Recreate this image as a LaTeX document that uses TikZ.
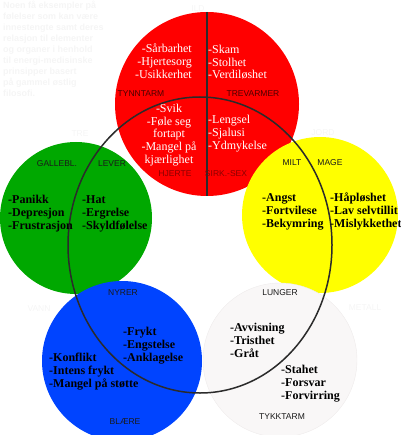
\documentclass[tikz,border=0pt]{standalone}
\usepackage{fontspec}
\setmainfont{Liberation Serif}
\newfontfamily\lsans{Liberation Sans}
\definecolor{cred}{HTML}{FF0000}
\definecolor{cgreen}{HTML}{00A800}
\definecolor{cyellow}{HTML}{FFFF00}
\definecolor{cblue}{HTML}{0044FF}
\definecolor{cwhite}{HTML}{F9F7F7}
\definecolor{cwhiteedge}{HTML}{EEEBEB}
\definecolor{faint}{HTML}{F5F5F5}
\definecolor{darkred}{HTML}{4A0000}
\definecolor{midred}{HTML}{8A0000}
\definecolor{organ}{HTML}{1A1A1A}
\definecolor{lineg}{HTML}{2B2B2B}
\tikzset{
  elem/.style={circle, inner sep=0pt},
  emo/.style={inner sep=0pt, anchor=base west, align=left, font=\fontsize{12}{12.7}\selectfont},
  emob/.style={emo, font=\fontsize{12}{12.7}\selectfont\bfseries, text=black},
  emow/.style={emo, text=white},
  organlbl/.style={inner sep=0pt, font=\lsans\fontsize{8.5}{9}\selectfont, text=organ},
  faintlbl/.style={inner sep=0pt, font=\lsans\bfseries\fontsize{9}{11}\selectfont, text=faint},
}
\begin{document}
\begin{tikzpicture}[x=1pt,y=-1pt]
\useasboundingbox (0,0) rectangle (400,435);
% circles
\node[elem, fill=cred, minimum size=184pt] (fire) at (207,104) {};
\node[elem, fill=cgreen, minimum size=152pt] (wood) at (76,218) {};
\node[elem, fill=cyellow, minimum size=156pt] (earth) at (320,215) {};
\node[elem, fill=cblue, minimum size=160pt] (water) at (122,361) {};
\node[elem, fill=cwhite, draw=cwhiteedge, minimum size=154pt] (metal) at (280,360) {};
% big ellipse
\draw[lineg, line width=1.5pt] (200,245) ellipse [x radius=132pt, y radius=148pt];
% dividing line in red circle
\draw[lineg, line width=1.5pt] (fire.north) -- (fire.south);
% faint texts
\node[faintlbl, anchor=north west, align=left] (intro) at (3,1) {Noen få eksempler på\\følelser som kan være\\innestengte samt deres\\relasjon til elementer\\og organer i henhold\\til energi-medisinske\\prinsipper basert\\på gammel østlig\\filosofi.};
\node[faintlbl, font=\lsans\fontsize{8.5}{9}\selectfont] (ild) at (198,9) {ILD};
\node[faintlbl, font=\lsans\fontsize{8.5}{9}\selectfont] (tre) at (80,134) {TRE};
\node[faintlbl, font=\lsans\fontsize{8.5}{9}\selectfont] (jord) at (323,133) {JORD};
\node[faintlbl, font=\lsans\fontsize{8.5}{9}\selectfont] (vann) at (39,309) {VANN};
\node[faintlbl, font=\lsans\fontsize{8.5}{9}\selectfont] (metall) at (365,308) {METALL};
% red circle
\node[organlbl, text=darkred] (tynntarm) at (141,94) {TYNNTARM};
\node[organlbl, text=darkred] (trevarmer) at (253,94) {TREVARMER};
\node[organlbl, text=midred] (hjerte) at (175,174) {HJERTE};
\node[organlbl, text=midred] (sirk) at (226,174) {SIRK.-SEX};
\node[emow, anchor=base east, align=right] (r1) at (192,78.4) {-Sårbarhet\\-Hjertesorg\\-Usikkerhet};
\node[emow] (r2) at (208,78.9) {-Skam\\-Stolhet\\-Verdiløshet};
\node[emow, anchor=base, align=center] (r3) at (169,163.3) {-Svik\\-Føle seg\\fortapt\\-Mangel på\\kjærlighet};
\node[emow] (r4) at (208,149.4) {-Lengsel\\-Sjalusi\\-Ydmykelse};
% green circle
\node[organlbl] (galle) at (57,164) {GALLEBL.};
\node[organlbl] (lever) at (112,164) {LEVER};
\node[emob] (g1) at (8,229) {-Panikk\\-Depresjon\\-Frustrasjon};
\node[emob] (g2) at (82,229) {-Hat\\-Ergrelse\\-Skyldfølelse};
% yellow circle
\node[organlbl] (milt) at (292,163) {MILT};
\node[organlbl] (mage) at (330,163) {MAGE};
\node[emob] (y1) at (262,227) {-Angst\\-Fortvilese\\-Bekymring};
\node[emob] (y2) at (330,227) {-Håpløshet\\-Lav selvtillit\\-Mislykkethet};
% blue circle
\node[organlbl] (nyrer) at (123,293) {NYRER};
\node[organlbl] (blaere) at (125,422) {BLÆRE};
\node[emob] (b1) at (123,361) {-Frykt\\-Engstelse\\-Anklagelse};
\node[emob] (b2) at (49,387) {-Konflikt\\-Intens frykt\\-Mangel på støtte};
% white circle
\node[organlbl] (lunger) at (280,293) {LUNGER};
\node[organlbl] (tykktarm) at (282,417) {TYKKTARM};
\node[emob] (w1) at (230,357) {-Avvisning\\-Tristhet\\-Gråt};
\node[emob] (w2) at (281,399) {-Stahet\\-Forsvar\\-Forvirring};
\end{tikzpicture}
\end{document}
